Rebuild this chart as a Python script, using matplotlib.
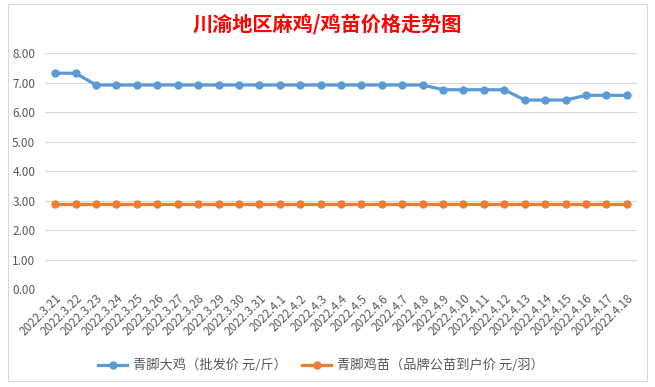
import numpy as np
import matplotlib.pyplot as plt
from matplotlib.patches import Rectangle

plt.rcParams['font.family'] = ['Noto Sans CJK SC', 'DejaVu Sans']

dates = ['2022.3.21', '2022.3.22', '2022.3.23', '2022.3.24', '2022.3.25', '2022.3.26',
         '2022.3.27', '2022.3.28', '2022.3.29', '2022.3.30', '2022.3.31', '2022.4.1',
         '2022.4.2', '2022.4.3', '2022.4.4', '2022.4.5', '2022.4.6', '2022.4.7',
         '2022.4.8', '2022.4.9', '2022.4.10', '2022.4.11', '2022.4.12', '2022.4.13',
         '2022.4.14', '2022.4.15', '2022.4.16', '2022.4.17', '2022.4.18']
big_chicken = [7.33, 7.33, 6.93, 6.93, 6.93, 6.93, 6.93, 6.93, 6.93, 6.93, 6.93, 6.93,
               6.93, 6.93, 6.93, 6.93, 6.93, 6.93, 6.93, 6.77, 6.77, 6.77, 6.77, 6.42,
               6.42, 6.42, 6.58, 6.58, 6.58]
chick = [2.91] * 29
label_big = '青脚大鸡（批发价 元/斤）'
label_chick = '青脚鸡苗（品牌公苗到户价 元/羽）'
title = '川渝地区麻鸡/鸡苗价格走势图'

fig = plt.figure(figsize=(6.55, 3.87), dpi=100)
fig.patches.append(Rectangle((0.012, 0.015), 0.976, 0.975, transform=fig.transFigure,
                             fill=False, edgecolor='#D9D9D9', linewidth=0.8))
ax = fig.add_axes([0.0687, 0.2525, 0.9038, 0.6093])

x = np.arange(len(dates))
ax.plot(x, big_chicken, color='#5B9BD5', lw=2.3, marker='o', ms=5, label=label_big, zorder=3)
ax.plot(x, chick, color='#ED7D31', lw=2.3, marker='o', ms=5, label=label_chick, zorder=3)

ax.set_xlim(-0.5, len(dates) - 0.5)
ax.set_ylim(0, 8)
ax.set_yticks(np.arange(0, 9, 1))
ax.set_yticklabels([f'{v:.2f}' for v in range(9)])
ax.set_xticks(x)
ax.set_xticklabels(dates, rotation=45, ha='right', rotation_mode='anchor')
ax.tick_params(length=0, colors='#595959')
ax.tick_params(axis='y', pad=7, labelsize=8.5)
ax.tick_params(axis='x', pad=2, labelsize=8.5)
ax.grid(axis='y', color='#D9D9D9', lw=0.8)
ax.set_axisbelow(True)
for s in ax.spines.values():
    s.set_visible(False)

fig.suptitle(title, color='red', fontsize=14.5, fontweight='bold', y=0.965)
fig.legend(loc='center', bbox_to_anchor=(0.49, 0.055), ncol=2, frameon=False,
           fontsize=9.5, handlelength=2.2, handletextpad=0.4, columnspacing=1.2,
           labelcolor='#595959')

fig.savefig('out.png', dpi=100)
